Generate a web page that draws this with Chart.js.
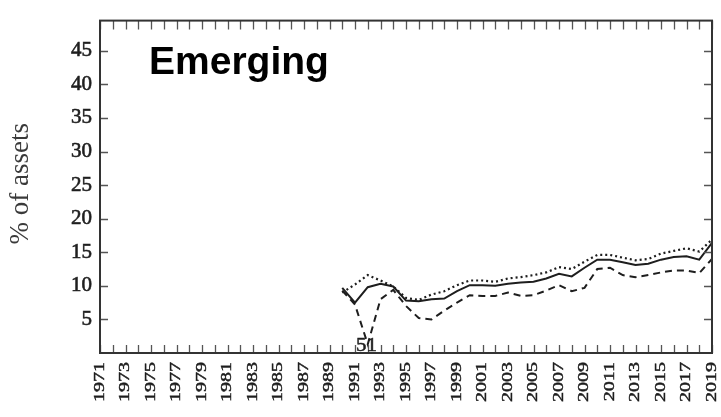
<!DOCTYPE html>
<html>
<head>
<meta charset="utf-8">
<script src="https://cdn.jsdelivr.net/npm/chart.js@4/dist/chart.umd.min.js"></script>
<style>
  html, body { margin: 0; padding: 0; background: #ffffff; }
  #wrap { width: 721px; height: 417px; position: relative; }
</style>
</head>
<body>
<div id="wrap"><canvas id="c" width="721" height="417"></canvas></div>
<script>
// Years covered by the three series
const years = [1990, 1991, 1992, 1993, 1994, 1995, 1996, 1997, 1998, 1999,
               2000, 2001, 2002, 2003, 2004, 2005, 2006, 2007, 2008, 2009,
               2010, 2011, 2012, 2013, 2014, 2015, 2016, 2017, 2018, 2019];

// Solid line
const solidSeries = [9.7, 7.5, 9.8, 10.3, 9.9, 7.8, 7.7, 8.0, 8.1, 9.2,
                     10.1, 10.1, 10.0, 10.3, 10.5, 10.6, 11.1, 11.8, 11.4, 12.7,
                     13.9, 13.9, 13.5, 13.1, 13.3, 13.9, 14.3, 14.4, 13.9, 16.4];

// Dotted line
const dottedSeries = [9.0, 10.2, 11.6, 10.8, 9.9, 8.2, 7.9, 8.7, 9.2, 10.1,
                      10.8, 10.8, 10.6, 11.1, 11.3, 11.6, 12.0, 12.8, 12.5, 13.6,
                      14.6, 14.6, 14.2, 13.8, 14.0, 14.8, 15.2, 15.6, 15.1, 16.9];

// Dashed line
const dashedSeries = [9.3, 7.2, 1.3, 8.0, 9.4, 7.0, 5.2, 5.0, 6.3, 7.5,
                      8.6, 8.5, 8.5, 9.0, 8.5, 8.6, 9.3, 10.1, 9.2, 9.7,
                      12.5, 12.7, 11.6, 11.3, 11.6, 12.0, 12.3, 12.3, 11.9, 14.0];

// Axis ticks
const xTickYears = [1971, 1973, 1975, 1977, 1979, 1981, 1983, 1985, 1987, 1989,
                    1991, 1993, 1995, 1997, 1999, 2001, 2003, 2005, 2007, 2009,
                    2011, 2013, 2015, 2017, 2019];
const yTicks = [5, 10, 15, 20, 25, 30, 35, 40, 45];

const panelTitle = 'Emerging';
const yAxisTitle = '% of assets';
const lowNote = { year: 1991.9, text: '51' };

const INK = '#1e1e1e';
const SERIF = '"Liberation Serif", "DejaVu Serif", serif';

function pts(vals) {
  return years.map((yr, i) => ({ x: yr, y: vals[i] }));
}

// Frame, inward tick marks, rotated year labels and text notes
const decorations = {
  id: 'decorations',
  afterDatasetsDraw(chart) {
    const { ctx, chartArea: a, scales: { x, y } } = chart;
    ctx.save();

    // inward ticks: every year along top and bottom, every 5 along left and right
    ctx.strokeStyle = '#555555';
    ctx.lineWidth = 1.3;
    ctx.beginPath();
    for (let yr = 1971; yr <= 2019; yr++) {
      const px = Math.round(x.getPixelForValue(yr)) + 0.5;
      ctx.moveTo(px, a.bottom); ctx.lineTo(px, a.bottom - 8);
      ctx.moveTo(px, a.top); ctx.lineTo(px, a.top + 9);
    }
    yTicks.forEach(v => {
      const py = Math.round(y.getPixelForValue(v)) + 0.5;
      ctx.moveTo(a.left, py); ctx.lineTo(a.left + 8, py);
      ctx.moveTo(a.right, py); ctx.lineTo(a.right - 8, py);
    });
    ctx.stroke();

    // frame
    ctx.strokeStyle = '#333333';
    ctx.lineWidth = 2;
    ctx.strokeRect(a.left, a.top, a.right - a.left, a.bottom - a.top);

    // year labels, rotated and slightly compressed
    ctx.fillStyle = INK;
    ctx.strokeStyle = INK;
    ctx.lineWidth = 0.6;
    ctx.font = '20px ' + SERIF;
    ctx.textAlign = 'right';
    ctx.textBaseline = 'middle';
    xTickYears.forEach(yr => {
      const px = x.getPixelForValue(yr);
      ctx.save();
      ctx.translate(px, a.bottom + 9);
      ctx.rotate(-Math.PI / 2);
      ctx.scale(1, 0.74);
      ctx.fillText(String(yr), 0, 0);
      ctx.strokeText(String(yr), 0, 0);
      ctx.restore();
    });

    // note near the dip of the dashed line
    ctx.save();
    ctx.font = '19px ' + SERIF;
    ctx.lineWidth = 0.5;
    ctx.textAlign = 'center';
    ctx.textBaseline = 'alphabetic';
    ctx.translate(x.getPixelForValue(lowNote.year), a.bottom - 2);
    ctx.scale(1.1, 1);
    ctx.fillText(lowNote.text, 0, 0);
    ctx.strokeText(lowNote.text, 0, 0);
    ctx.restore();

    // y-axis title
    ctx.save();
    ctx.font = '27px ' + SERIF;
    ctx.fillStyle = '#3a3a3a';
    ctx.textAlign = 'center';
    ctx.textBaseline = 'middle';
    ctx.translate(21, (a.top + a.bottom) / 2 - 3);
    ctx.rotate(-Math.PI / 2);
    ctx.fillText(yAxisTitle, 0, 0);
    ctx.restore();

    // panel title
    ctx.font = 'bold 39px "Liberation Sans", Arial, sans-serif';
    ctx.fillStyle = '#000000';
    ctx.textAlign = 'left';
    ctx.textBaseline = 'alphabetic';
    ctx.fillText(panelTitle, 149, 74);

    ctx.restore();
  }
};

new Chart(document.getElementById('c'), {
  type: 'line',
  data: {
    datasets: [
      { label: 'solid', data: pts(solidSeries), borderColor: INK, borderWidth: 2,
        pointRadius: 0, tension: 0, fill: false },
      { label: 'dotted', data: pts(dottedSeries), borderColor: INK, borderWidth: 2.2,
        borderDash: [2, 3], pointRadius: 0, tension: 0, fill: false },
      { label: 'dashed', data: pts(dashedSeries), borderColor: INK, borderWidth: 2,
        borderDash: [7, 5], pointRadius: 0, tension: 0, fill: false }
    ]
  },
  options: {
    responsive: false,
    animation: false,
    devicePixelRatio: 1,
    layout: { padding: { top: 4, right: 9, left: 0, bottom: 0 } },
    plugins: { legend: { display: false }, tooltip: { enabled: false } },
    scales: {
      x: {
        type: 'linear',
        min: 1971,
        max: 2019,
        grid: { display: false, drawTicks: false },
        border: { display: false },
        ticks: { display: false, stepSize: 2 },
        afterFit(scale) { scale.height = 64; }
      },
      y: {
        type: 'linear',
        min: 0,
        max: 49.5,
        grid: { display: false, drawTicks: false },
        border: { display: false },
        afterBuildTicks(scale) { scale.ticks = yTicks.map(v => ({ value: v })); },
        ticks: {
          padding: 8,
          color: INK,
          textStrokeColor: INK,
          textStrokeWidth: 0.6,
          font: { family: SERIF, size: 21 },
          callback: v => String(v)
        },
        afterFit(scale) { scale.width = 100; }
      }
    }
  },
  plugins: [decorations]
});
</script>
</body>
</html>
